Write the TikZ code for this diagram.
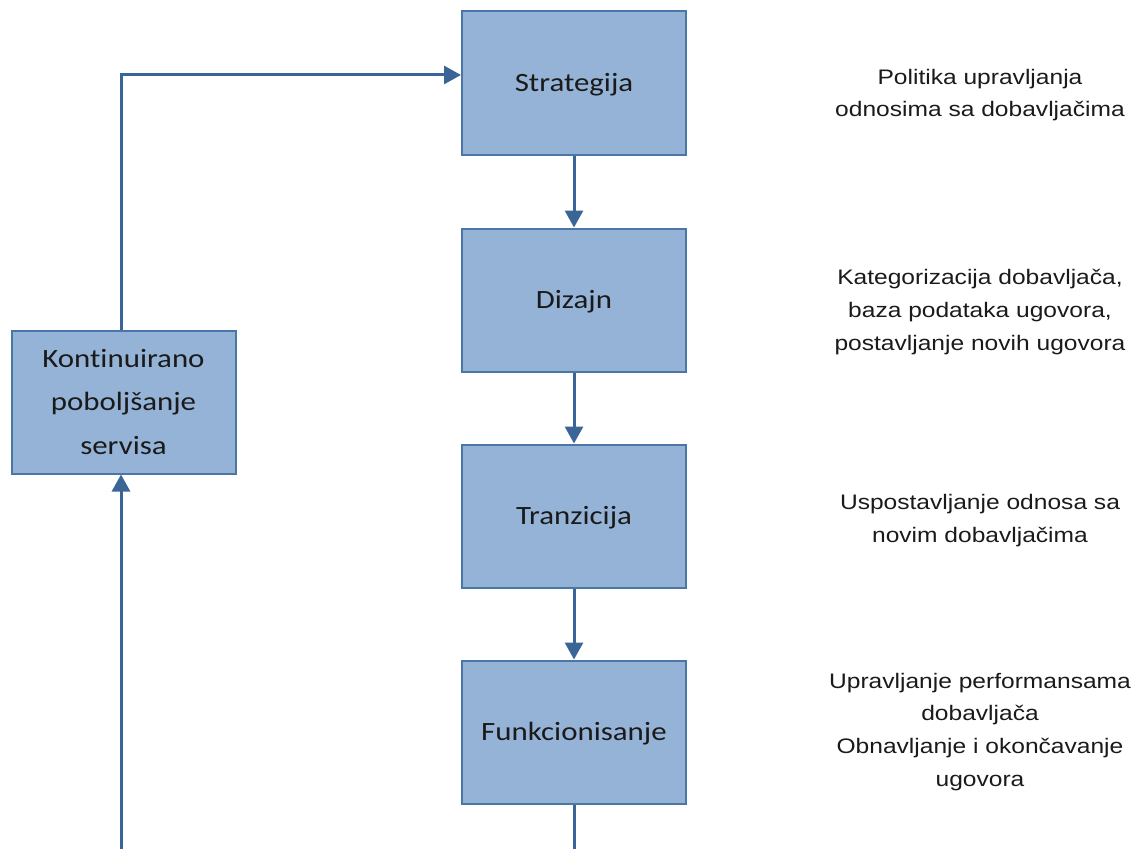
\documentclass[tikz,border=0pt]{standalone}
\usepackage{fontspec}
\usetikzlibrary{arrows.meta}
\newfontfamily\boxfont[FakeStretch=1.17,Ligatures=NoCommon]{Carlito}
\newfontfamily\labfont[FakeStretch=1.17]{Liberation Sans}
\definecolor{boxfill}{HTML}{95B3D7}
\definecolor{boxline}{HTML}{4A76A8}
\definecolor{arrline}{HTML}{3B6497}
\definecolor{txt}{HTML}{1A1A1A}
\begin{document}
\begin{tikzpicture}[x=0.75pt,y=-0.75pt,
  procbox/.style={draw=boxline,line width=1.5pt,fill=boxfill,rectangle,inner sep=0pt,
    minimum width=168pt,minimum height=107.25pt,text=txt,
    font=\boxfont\fontsize{19.8pt}{32.6pt}\selectfont,text height=12.75pt,text depth=0pt},
  note/.style={anchor=base,align=center,text=txt,inner sep=0pt,
    font=\labfont\fontsize{15.75pt}{24.4pt}\selectfont},
  flow/.style={draw=arrline,line width=2.25pt},
  arr/.style={flow,-{Triangle[length=12.75pt,width=13.5pt]}}]
\useasboundingbox (0,0) rectangle (1138,849);
\node[procbox] (s) at (574,83) {Strategija};
\node[procbox] (d) at (574,300) {Dizajn};
\node[procbox] (t) at (574,516) {Tranzicija};
\node[procbox] (f) at (574,732) {Funkcionisanje};
\node[procbox,align=center,text height=78pt] (k) at (123.5,402) {Kontinuirano\\poboljšanje\\servisa};
\node[note] (ns) at (980,117) {Politika upravljanja\\odnosima sa dobavljačima};
\node[note] (nd) at (980,350) {Kategorizacija dobavljača,\\baza podataka ugovora,\\postavljanje novih ugovora};
\node[note] (nt) at (980,542) {Uspostavljanje odnosa sa\\novim dobavljačima};
\node[note] (nf) at (980,786) {Upravljanje performansama\\dobavljača\\Obnavljanje i okončavanje\\ugovora};
\coordinate (corner) at (121,75);
\coordinate (botl) at (121,851);
\coordinate (botr) at (574,851);
\draw[arr] (s.south) -- (d.north);
\draw[arr] (d.south) -- (t.north);
\draw[arr] (t.south) -- (f.north);
\draw[flow] (f.south) -- (botr);
\draw[arr] (botl) -- (botl |- k.south);
\draw[arr] (corner |- k.north) -- (corner) -- (corner -| s.west);
\end{tikzpicture}
\end{document}
